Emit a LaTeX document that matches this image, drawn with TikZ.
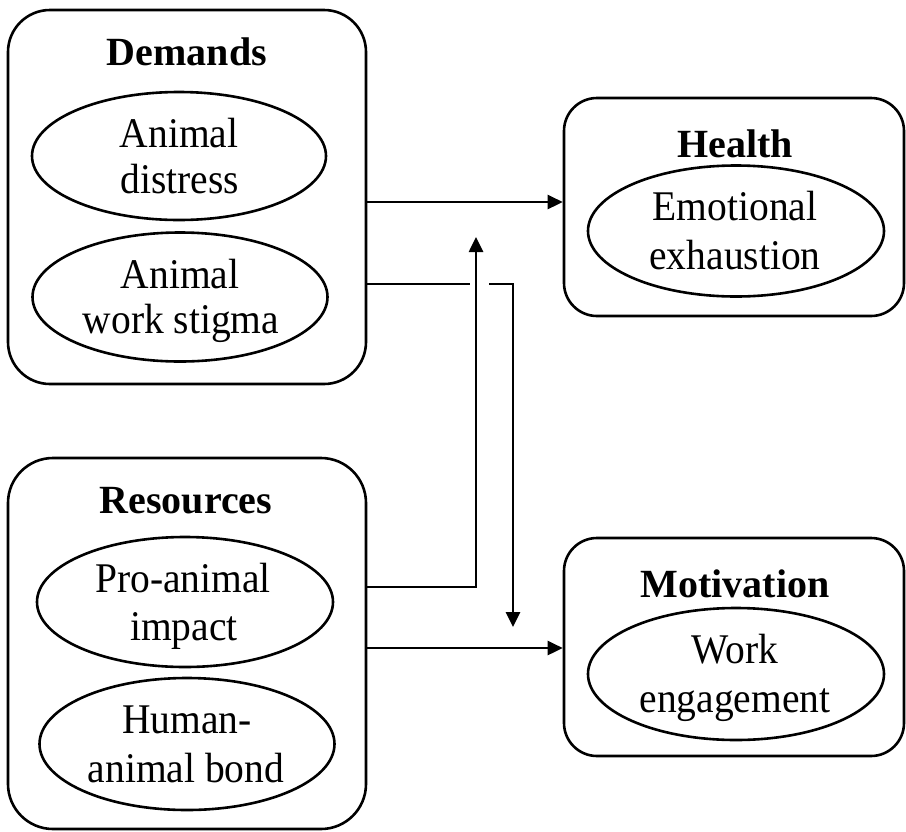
\documentclass[tikz,border=0pt]{standalone}
\usepackage{fontspec}
\setmainfont{Liberation Serif}
\usetikzlibrary{arrows.meta,shapes.geometric}
\newcommand\tallt[1]{\scalebox{1}[1.07]{#1}}
\begin{document}
\begin{tikzpicture}[x=1pt,y=-1pt,
  box/.style={draw, line width=2.6pt, inner sep=0pt},
  oval/.style={draw, ellipse, line width=2.6pt, inner sep=0pt},
  ttl/.style={font=\fontsize{40}{46}\selectfont\bfseries, anchor=base, inner sep=0pt},
  lbl/.style={font=\fontsize{39.5}{46}\selectfont, anchor=base, inner sep=0pt},
  conn/.style={line width=2.6pt},
  arr/.style={conn, -{Triangle[length=15pt,width=14pt]}}]
\useasboundingbox[fill=white] (0,0) rectangle (906,831);

% Demands
\node[box, rounded corners=42pt, minimum width=358pt, minimum height=374pt] (dem) at (187,197) {};
\node[ttl] (demt) at (187,65) {Demands};
\node[oval, minimum width=294pt, minimum height=128pt] (ad) at (179,156) {};
\node[lbl] (ad1) at (179,147) {\tallt{Animal}};
\node[lbl] (ad2) at (180,193) {\tallt{distress}};
\node[oval, minimum width=295pt, minimum height=129pt] (aws) at (180,297) {};
\node[lbl] (aws1) at (180,288) {\tallt{Animal}};
\node[lbl] (aws2) at (181,333) {\tallt{work stigma}};

% Resources
\node[box, rounded corners=45pt, minimum width=358pt, minimum height=371pt] (res) at (187,643.5) {};
\node[ttl] (rest) at (186,513) {Resources};
\node[oval, minimum width=296pt, minimum height=130pt] (pai) at (185,602) {};
\node[lbl] (pai1) at (183,592) {\tallt{Pro-animal}};
\node[lbl] (pai2) at (184,640) {\tallt{impact}};
\node[oval, minimum width=295pt, minimum height=132pt] (hab) at (187,744) {};
\node[lbl] (hab1) at (187,733) {\tallt{Human-}};
\node[lbl] (hab2) at (186,782) {\tallt{animal bond}};

% Health
\node[box, rounded corners=33pt, minimum width=340pt, minimum height=218pt] (hea) at (734,207) {};
\node[ttl] (heat) at (735,157) {Health};
\node[oval, minimum width=296pt, minimum height=131pt] (ee) at (736,231) {};
\node[lbl] (ee1) at (735,220) {\tallt{Emotional}};
\node[lbl] (ee2) at (735,269) {\tallt{exhaustion}};

% Motivation
\node[box, rounded corners=33pt, minimum width=340pt, minimum height=218pt] (mot) at (734,647) {};
\node[ttl] (mott) at (735,597) {Motivation};
\node[oval, minimum width=296pt, minimum height=132pt] (we) at (736,674) {};
\node[lbl] (we1) at (735,663) {\tallt{Work}};
\node[lbl] (we2) at (735,712) {\tallt{engagement}};

% connectors
\coordinate (gapL) at (470,284);
\coordinate (gapR) at (489,284);
\coordinate (bendD) at (513,284);
\coordinate (tipD) at (513,627);
\coordinate (bendU) at (476,587);
\coordinate (tipU) at (476,237);
\coordinate (yA) at (0,202);
\coordinate (yB) at (0,648);

\draw[arr] (dem.east |- yA) -- (hea.west |- yA);
\draw[conn] (dem.east |- gapL) -- (gapL);
\draw[arr] (gapR) -- (bendD) -- (tipD);
\draw[arr] (res.east |- bendU) -- (bendU) -- (tipU);
\draw[arr] (res.east |- yB) -- (mot.west |- yB);
\end{tikzpicture}
\end{document}
